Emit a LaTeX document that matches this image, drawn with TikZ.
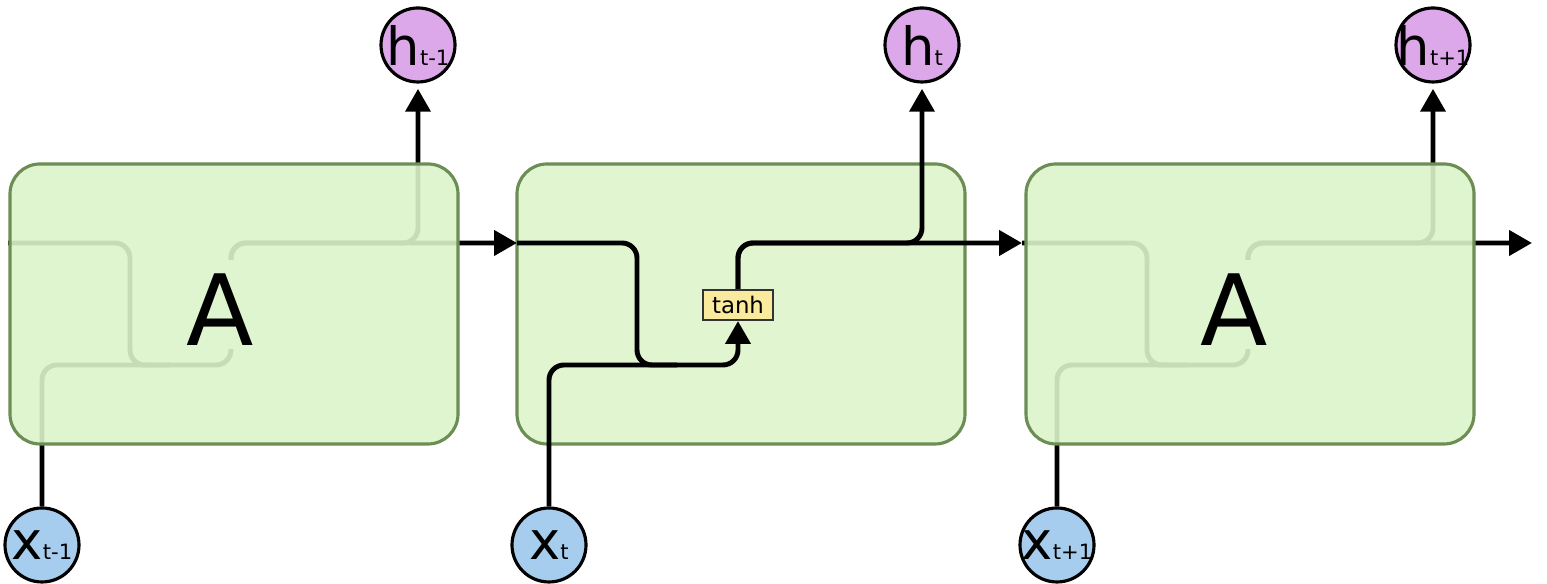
\documentclass[tikz,border=0pt]{standalone}
\usepackage{fontspec}
\setmainfont{DejaVu Sans}
\usetikzlibrary{arrows.meta,positioning}
\definecolor{cellfill}{RGB}{220,244,202}
\definecolor{cellsolid}{RGB}{224,245,208}
\definecolor{celledge}{RGB}{108,142,85}
\definecolor{hfill}{RGB}{221,168,234}
\definecolor{xfill}{RGB}{166,205,238}
\definecolor{tanhfill}{RGB}{249,234,158}
\newcommand{\vlabel}[2]{\makebox[0pt]{{\fontsize{15}{15}\selectfont #1}{\fontsize{6}{6}\selectfont #2}}}
\tikzset{
  cellbox/.style={draw=celledge, line width=0.9pt, rounded corners=0.3cm, minimum width=4.48cm, minimum height=2.80cm, inner sep=0pt},
  wire/.style={line width=1.4pt, rounded corners=0.15cm},
  arr/.style={-{Triangle[length=6.5pt,width=7pt]}},
  hnode/.style={circle, draw, line width=0.9pt, fill=hfill, minimum size=0.74cm, inner sep=0pt},
  xnode/.style={circle, draw, line width=0.9pt, fill=xfill, minimum size=0.74cm, inner sep=0pt},
  tanhbox/.style={draw=black!80, line width=0.6pt, fill=tanhfill, minimum width=0.70cm, minimum height=0.30cm, inner sep=0pt, font=\fontsize{6.5}{7}\selectfont},
  cellname/.style={font=\fontsize{28}{30}\selectfont, inner sep=2pt}
}
\begin{document}
\begin{tikzpicture}
  \useasboundingbox (0,0) rectangle (15.47,5.84);

  % middle cell, drawn solid under its wires
  \node[cellbox, fill=cellsolid] (cell2) at (7.41,2.80) {};
  \node[tanhbox] (tanh2) at (7.38,2.79) {tanh};

  % inputs and outputs
  \node[hnode] (h1) at (4.18,5.39) {\vlabel{h}{t-1}};
  \node[hnode] (h2) at (9.22,5.39) {\vlabel{h}{t}};
  \node[hnode] (h3) at (14.33,5.39) {\vlabel{h}{t+1}};
  \node[xnode] (x1) at (0.42,0.39) {\vlabel{x}{t-1}};
  \node[xnode] (x2) at (5.49,0.39) {\vlabel{x}{t}};
  \node[xnode] (x3) at (10.57,0.39) {\vlabel{x}{t+1}};

  % corner points of the wires
  \coordinate (in1) at (0.08,3.41);
  \coordinate (merge1) at (1.30,2.19);
  \coordinate (feed1) at (1.70,2.19);
  \coordinate (mid1) at (2.31,2.80);
  \coordinate (riser1) at (4.18,3.41);
  \coordinate (in2) at (5.17,3.41);
  \coordinate (merge2) at (6.37,2.19);
  \coordinate (feed2) at (6.77,2.19);
  \coordinate (riser2) at (9.22,3.41);
  \coordinate (in3) at (10.22,3.41);
  \coordinate (merge3) at (11.47,2.19);
  \coordinate (feed3) at (11.87,2.19);
  \coordinate (mid3) at (12.48,2.80);
  \coordinate (riser3) at (14.33,3.41);
  \coordinate (out3) at (15.32,3.41);

  % cell 1 wires
  \draw[wire] (in1) -| (merge1) -| (mid1);
  \draw[wire] (x1.north) |- (feed1);
  \draw[wire, arr, shorten >=1.5pt] (mid1) |- (riser1) -- (h1.south);
  \draw[wire, arr] (mid1) |- (in2);

  % cell 2 wires
  \draw[wire, arr] (in2) -| (merge2) -| (tanh2.south);
  \draw[wire] (x2.north) |- (feed2);
  \draw[wire, arr, shorten >=1.5pt] (tanh2.north) |- (riser2) -- (h2.south);
  \draw[wire, arr] (tanh2.north) |- (in3);

  % cell 3 wires
  \draw[wire] (in3) -| (merge3) -| (mid3);
  \draw[wire] (x3.north) |- (feed3);
  \draw[wire, arr, shorten >=1.5pt] (mid3) |- (riser3) -- (h3.south);
  \draw[wire, arr] (mid3) |- (out3);

  % hide the wires behind the letters
  \fill[white] (mid1) +(-0.42,-0.45) rectangle +(0.40,0.44);
  \fill[white] (mid3) +(-0.42,-0.45) rectangle +(0.40,0.44);

  % outer cells, see-through over their wires
  \node[cellbox, fill=cellfill, fill opacity=0.9] (cell1) at (2.34,2.80) {};
  \node[cellbox, fill=cellfill, fill opacity=0.9] (cell3) at (12.50,2.80) {};
  \node[cellname] (name1) at (2.20,2.745) {A};
  \node[cellname] (name3) at (12.34,2.745) {A};
\end{tikzpicture}
\end{document}
